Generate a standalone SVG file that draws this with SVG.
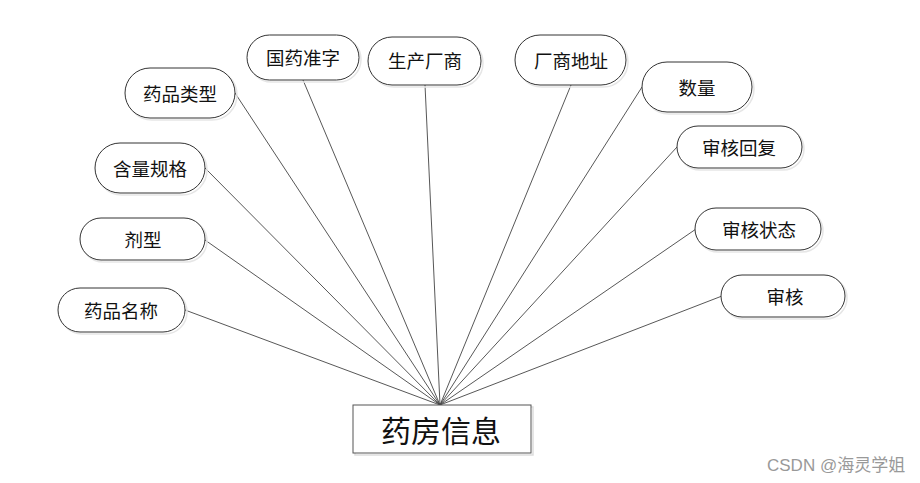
<svg xmlns="http://www.w3.org/2000/svg" width="920" height="483" viewBox="0 0 920 483">
<defs>
<style>
.n rect.s{fill:none;stroke:#e6e6e6;stroke-width:1.5}
.n rect.b{fill:#fff;stroke:#333;stroke-width:1}
.n text{font-family:"Noto Sans CJK SC","Noto Sans",sans-serif;font-size:18.5px;fill:#111;text-anchor:middle;dominant-baseline:central}
#conn line{stroke:#444;stroke-width:0.9}
.wm{font-family:"Liberation Sans","Noto Sans CJK SC",sans-serif;font-size:17px;fill:#999}
</style>
</defs>
<rect width="920" height="483" fill="#fff"/>
<g id="conn">
<line x1="185" y1="310" x2="440" y2="405"/>
<line x1="205" y1="240" x2="440" y2="405"/>
<line x1="205" y1="168" x2="440" y2="405"/>
<line x1="235" y1="93" x2="440" y2="405"/>
<line x1="303" y1="80" x2="440" y2="405"/>
<line x1="425" y1="85" x2="440" y2="405"/>
<line x1="571" y1="85" x2="440" y2="405"/>
<line x1="642" y1="87" x2="440" y2="405"/>
<line x1="677" y1="147" x2="440" y2="405"/>
<line x1="696" y1="229" x2="440" y2="405"/>
<line x1="722" y1="296" x2="440" y2="405"/>
</g>
<g id="n1" class="n"><rect class="s" x="60" y="290" width="127" height="44" rx="22"/><rect class="b" x="58" y="288" width="127" height="44" rx="22"/><text x="121" y="310">药品名称</text></g>
<g id="n2" class="n"><rect class="s" x="82" y="220" width="125" height="42" rx="21"/><rect class="b" x="80" y="218" width="125" height="42" rx="21"/><text x="143" y="239">剂型</text></g>
<g id="n3" class="n"><rect class="s" x="97" y="145" width="110" height="50" rx="25"/><rect class="b" x="95" y="143" width="110" height="50" rx="25"/><text x="150" y="168">含量规格</text></g>
<g id="n4" class="n"><rect class="s" x="127" y="70" width="110" height="50" rx="25"/><rect class="b" x="125" y="68" width="110" height="50" rx="25"/><text x="180" y="93">药品类型</text></g>
<g id="n5" class="n"><rect class="s" x="249" y="37" width="112" height="45" rx="22.5"/><rect class="b" x="247" y="35" width="112" height="45" rx="22.5"/><text x="303" y="57">国药准字</text></g>
<g id="n6" class="n"><rect class="s" x="370" y="39" width="113" height="48" rx="24"/><rect class="b" x="368" y="37" width="113" height="48" rx="24"/><text x="425" y="60">生产厂商</text></g>
<g id="n7" class="n"><rect class="s" x="517" y="37" width="111" height="50" rx="25"/><rect class="b" x="515" y="35" width="111" height="50" rx="25"/><text x="571" y="60">厂商地址</text></g>
<g id="n8" class="n"><rect class="s" x="644" y="64" width="110" height="50" rx="25"/><rect class="b" x="642" y="62" width="110" height="50" rx="25"/><text x="697" y="87">数量</text></g>
<g id="n9" class="n"><rect class="s" x="679" y="128" width="125" height="42" rx="21"/><rect class="b" x="677" y="126" width="125" height="42" rx="21"/><text x="739" y="147">审核回复</text></g>
<g id="n10" class="n"><rect class="s" x="697" y="210" width="126" height="42" rx="21"/><rect class="b" x="695" y="208" width="126" height="42" rx="21"/><text x="759" y="229">审核状态</text></g>
<g id="n11" class="n"><rect class="s" x="723" y="277" width="124" height="42" rx="21"/><rect class="b" x="721" y="275" width="124" height="42" rx="21"/><text x="785" y="296">审核</text></g>
<g id="main" class="n"><rect class="s" x="355" y="407" width="178" height="48" style="stroke:#ddd"/><rect class="b" x="353" y="405" width="178" height="48" style="stroke:#555"/><text x="441" y="429" style="font-size:30px">药房信息</text></g>
<text class="wm" x="767" y="471">CSDN @海灵学姐</text>
</svg>
